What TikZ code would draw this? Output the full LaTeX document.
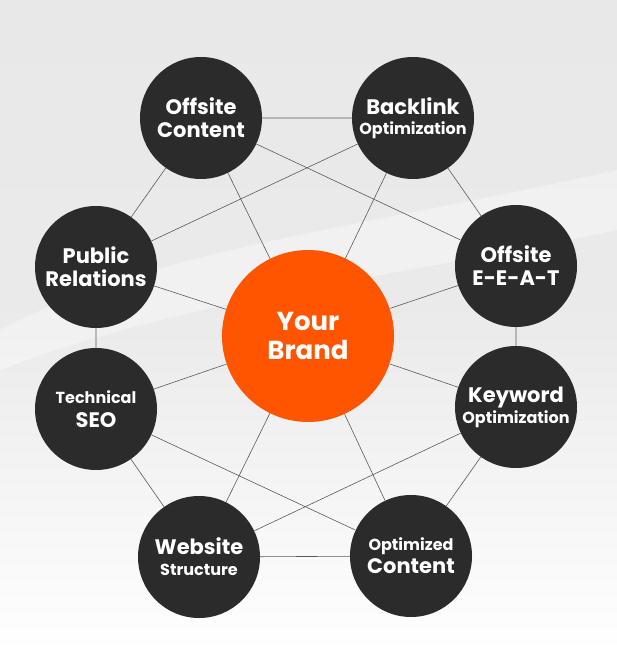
\documentclass[tikz,border=0pt]{standalone}
\usepackage{fontspec}
\setmainfont{Poppins}
\usetikzlibrary{backgrounds}
\definecolor{darkc}{HTML}{2B2B2B}
\definecolor{brandorange}{HTML}{FF5500}
\definecolor{linec}{HTML}{5A5A5A}
\definecolor{bgtop}{HTML}{E8E8E8}
\newcommand{\lgf}{\fontsize{21}{23}\selectfont\bfseries}
\newcommand{\smf}{\fontsize{16}{19}\selectfont\bfseries}
\newcommand{\hubf}{\fontsize{26}{29}\selectfont\bfseries}
\pgfdeclarelayer{lines}
\pgfsetlayers{background,lines,main}
\tikzset{
  sat/.style={circle, fill=darkc, minimum size=122pt, inner sep=0pt, text=white, align=center, font=\lgf},
  hub/.style={circle, fill=brandorange, minimum size=172pt, inner sep=0pt, text=white, align=center, font=\hubf},
  link/.style={draw=linec, line width=0.6pt}
}
\begin{document}
\begin{tikzpicture}[x=1pt,y=-1pt]
\begin{scope}[on background layer]
  \fill[top color=bgtop, bottom color=white, middle color=white!92!black, shading angle=0] (0,0) rectangle (617,652);
  \fill[white, opacity=0.35] (0,330) .. controls (150,250) and (350,230) .. (617,170) -- (617,230) .. controls (380,280) and (180,300) .. (0,370) -- cycle;
\end{scope}
\useasboundingbox (0,0) rectangle (617,652);

\node[hub] (brand) at (308,336) {Your\\Brand};
\node[sat] (oc) at (201,118) {Offsite\\Content};
\node[sat] (bo) at (413,118) {Backlink\\[-3pt]\smf Optimization};
\node[sat] (pr) at (96,267) {Public\\Relations};
\node[sat] (ee) at (516,266) {Offsite\\E-E-A-T};
\node[sat] (ts) at (96,409) {\smf Technical\\[1pt]SEO};
\node[sat] (kw) at (516,407) {Keyword\\[-2pt]\smf Optimization};
\node[sat] (ws) at (199,557) {Website\\[-2pt]\smf Structure};
\node[sat] (opc) at (411,556) {\smf Optimized\\Content};

\begin{pgfonlayer}{lines}
  \draw[link] (oc) -- (bo) -- (ee) -- (kw) -- (opc) -- (ws) -- (ts) -- (pr) -- (oc);
  \draw[link] (oc) -- (ee);
  \draw[link] (bo) -- (pr);
  \draw[link] (ts) -- (opc);
  \draw[link] (kw) -- (ws);
  \foreach \n in {oc,bo,pr,ee,ts,kw,ws,opc} \draw[link] (brand) -- (\n);
\end{pgfonlayer}
\end{tikzpicture}
\end{document}
